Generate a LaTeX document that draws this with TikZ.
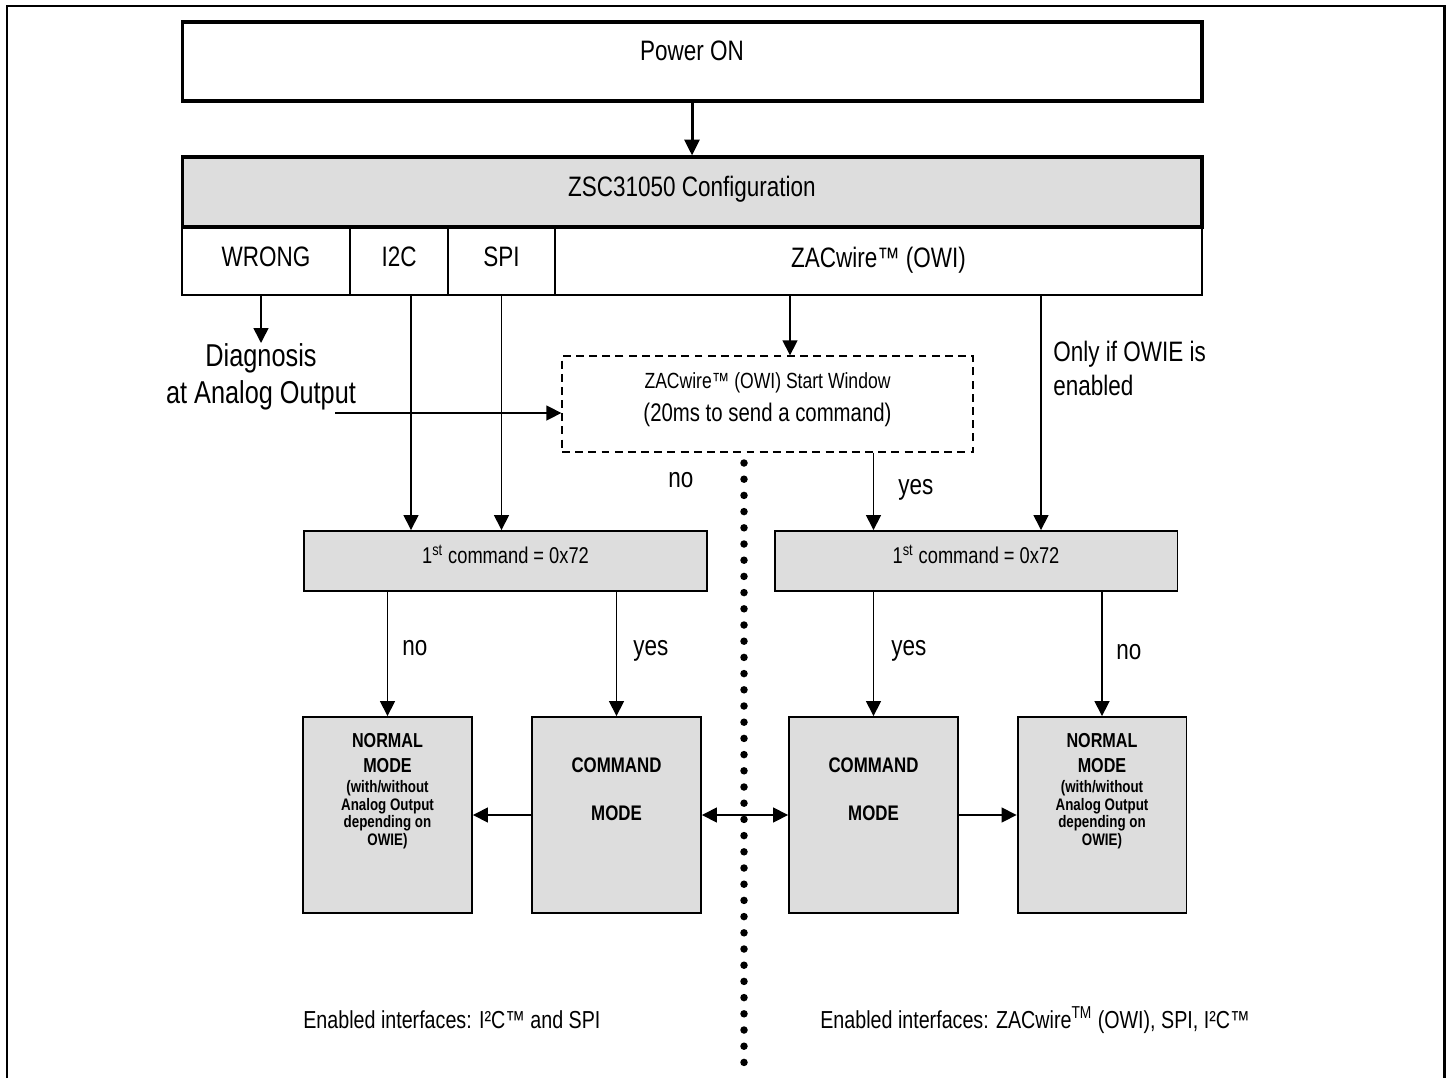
\documentclass[tikz,border=0pt]{standalone}
\usepackage{fontspec}
\setmainfont[FakeStretch=0.8]{Liberation Sans}
\usetikzlibrary{arrows.meta,positioning}
\definecolor{boxgray}{RGB}{221,221,221}
\tikzset{
  thickbox/.style={draw,line width=1.8pt,inner sep=0pt},
  cell/.style={draw,line width=1.1pt,inner sep=0pt,minimum height=1.36cm},
  greybox/.style={draw,fill=boxgray,line width=1.1pt,inner sep=0pt},
  winbox/.style={draw,dash pattern=on 4.5pt off 3pt,line width=0.8pt,inner sep=0pt},
  txt/.style={inner sep=0pt,font=\fontsize{16}{19}\selectfont},
  arr/.style={-{Triangle[length=8.5pt,width=8.5pt]},line width=0.9pt},
  darr/.style={{Triangle[length=8.5pt,width=8.5pt]}-{Triangle[length=8.5pt,width=8.5pt]},line width=0.9pt},
  modebig/.style={inner sep=0pt,align=center,font=\bfseries\fontsize{11.5}{14.2}\selectfont},
  modesmall/.style={inner sep=0pt,align=center,font=\bfseries\fontsize{9.5}{10}\selectfont},
  cmdtxt/.style={inner sep=0pt,align=center,font=\bfseries\fontsize{12}{27.2}\selectfont},
}

\begin{document}
\begin{tikzpicture}[x=0.02cm,y=-0.02cm]
  \useasboundingbox (0,0) rectangle (1449,1078);
  % outer frame
  \draw[line width=1.7pt] (7,1078) -- (7,6) -- (1444,6) -- (1444,1078);

  % top part
  \node[thickbox,minimum width=20.4cm,minimum height=1.58cm] (power) at (692,61.5) {};
  \node[txt,anchor=base] (ptxt) at (692,61) {Power ON};

  \node[cell,minimum width=3.36cm] (wrong) at (266,261) {};
  \node[cell,minimum width=1.96cm] (i2c) at (399,261) {};
  \node[cell,minimum width=2.14cm] (spi) at (501.5,261) {};
  \node[cell,minimum width=12.94cm] (zac) at (878.5,261) {};
  \node[thickbox,fill=boxgray,minimum width=20.4cm,minimum height=1.4cm] (config) at (692,192) {};
  \node[txt,anchor=base] (ctxt) at (692,196) {ZSC31050 Configuration};

  \node[txt,anchor=base] (wtxt) at (266,266) {WRONG};
  \node[txt,anchor=base] (itxt) at (399,266) {I2C};
  \node[txt,anchor=base] (stxt) at (501.5,266) {SPI};
  \node[txt,anchor=base] (ztxt) at (878.5,267) {ZACwire™ (OWI)};

  \draw[-{Triangle[length=9pt,width=8.5pt]},line width=1.7pt] (power.south) -- (config.north);

  % wrong configuration
  \node[inner sep=0pt,align=center,anchor=north,font=\fontsize{18}{21}\selectfont] (diag) at (261,343) {Diagnosis\\at Analog Output};
  \draw[arr] (wrong.south -| diag.north) -- (diag.north);

  % ZACwire start window
  \node[winbox,minimum width=8.22cm,minimum height=1.92cm] (win) at (767.5,404) {};
  \node[inner sep=0pt,anchor=base,font=\fontsize{12.5}{15}\selectfont] (wtop) at (767.5,388) {ZACwire™ (OWI) Start Window};
  \node[inner sep=0pt,anchor=base,font=\fontsize{14.5}{17}\selectfont] (wbot) at (767.5,421) {(20ms to send a command)};
  \coordinate (dstart) at (335,413);
  \draw[arr] (dstart) -- (dstart -| win.west);

  \node[txt,anchor=north west,align=left] (owie) at (1053,341) {Only if OWIE is\\enabled};

  % command checks
  \node[greybox,minimum width=8.06cm,minimum height=1.2cm] (cmdl) at (505.5,561) {};
  \node[greybox,minimum width=8.06cm,minimum height=1.2cm] (cmdr) at (976,561) {};
  \node[inner sep=0pt,anchor=base,font=\fontsize{13}{15}\selectfont] (cltxt) at (505.5,563) {1\textsuperscript{st} command = 0x72};
  \node[inner sep=0pt,anchor=base,font=\fontsize{13}{15}\selectfont] (crtxt) at (976,563) {1\textsuperscript{st} command = 0x72};

  % modes
  \node[greybox,minimum width=3.38cm,minimum height=3.92cm] (nl) at (387.5,815) {};
  \node[greybox,minimum width=3.38cm,minimum height=3.92cm] (cl) at (616.5,815) {};
  \node[greybox,minimum width=3.38cm,minimum height=3.92cm] (cr) at (873.5,815) {};
  \node[greybox,minimum width=3.38cm,minimum height=3.92cm] (nr) at (1102,815) {};

  \node[modebig,anchor=north] (nlt) at (387.5,733) {NORMAL\\MODE};
  \node[modesmall,anchor=north] (nls) at (387.5,780) {(with/without\\Analog Output\\depending on\\OWIE)};
  \node[cmdtxt,anchor=north] (clt) at (616.5,757.5) {COMMAND\\MODE};
  \node[cmdtxt,anchor=north] (crt) at (873.5,757.5) {COMMAND\\MODE};
  \node[modebig,anchor=north] (nrt) at (1102,733) {NORMAL\\MODE};
  \node[modesmall,anchor=north] (nrs) at (1102,780) {(with/without\\Analog Output\\depending on\\OWIE)};

  % connectors
  \draw[arr] ([xshift=.24cm]i2c.south) -- ([xshift=.24cm]i2c.south |- cmdl.north);
  \draw[arr] (spi.south) -- (spi.south |- cmdl.north);
  \coordinate (zw) at (790,295);
  \draw[arr] (zw) -- (zw |- win.north);
  \coordinate (zo) at (1041,295);
  \draw[arr] (zo) -- (zo |- cmdr.north);
  \draw[arr] (win.south -| cr.north) -- (cmdr.north -| cr.north);

  \draw[arr] (cmdl.south -| nl.north) -- (nl.north);
  \draw[arr] (cmdl.south -| cl.north) -- (cl.north);
  \draw[arr] (cmdr.south -| cr.north) -- (cr.north);
  \draw[arr] (cmdr.south -| nr.north) -- (nr.north);

  \draw[arr] (cl.west) -- (nl.east);
  \draw[darr] (cl.east) -- (cr.west);
  \draw[arr] (cr.east) -- (nr.west);

  % yes/no labels
  \node[txt,anchor=base west] (no0) at (668,487) {no};
  \node[txt,anchor=base west] (yes0) at (898,494) {yes};
  \node[txt,anchor=base west] (no1) at (402,655) {no};
  \node[txt,anchor=base west] (yes1) at (633,655) {yes};
  \node[txt,anchor=base west] (yes2) at (891,655) {yes};
  \node[txt,anchor=base west] (no2) at (1116,659) {no};

  % separation
  \foreach \i in {0,...,37}
    \fill (744,463+16.2*\i) circle (0.075cm);

  \node[inner sep=0pt,anchor=base west,font=\fontsize{14}{17}\selectfont] (enl) at (303,1028) {Enabled interfaces: I²C™ and SPI};
  \node[inner sep=0pt,anchor=base west,font=\fontsize{14}{17}\selectfont] (enr) at (820,1028) {Enabled interfaces: ZACwire\textsuperscript{TM} (OWI), SPI, I²C™};
\end{tikzpicture}
\end{document}
